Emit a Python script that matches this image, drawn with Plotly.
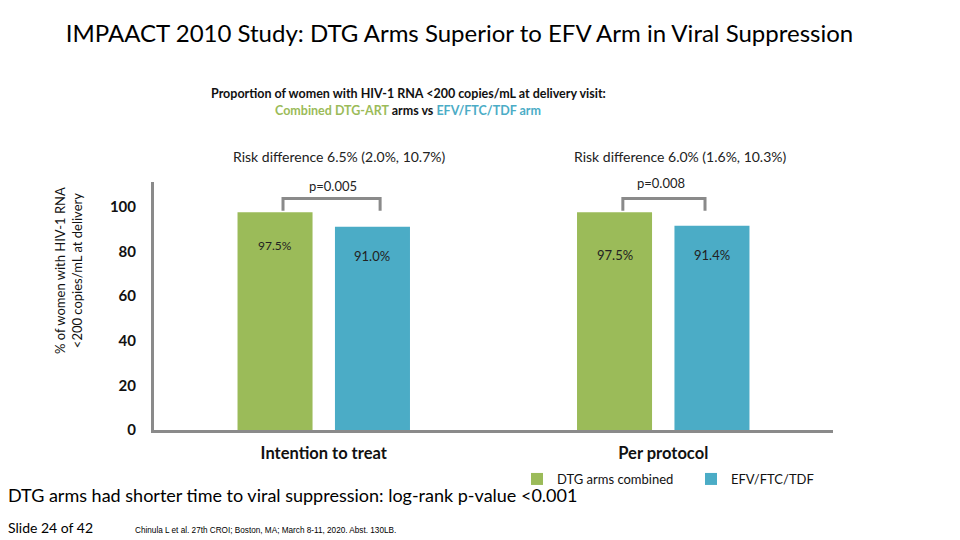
import plotly.graph_objects as go

categories = ["Intention to treat", "Per protocol"]
dtg_values = [97.5, 97.5]
efv_values = [91.0, 91.4]
dtg_labels = ["97.5%", "97.5%"]
efv_labels = ["91.0%", "91.4%"]
series_names = ["DTG arms combined", "EFV/FTC/TDF"]
risk_texts = ["Risk difference 6.5% (2.0%, 10.7%)", "Risk difference 6.0% (1.6%, 10.3%)"]
p_values = ["p=0.005", "p=0.008"]
y_ticks = [0, 20, 40, 60, 80, 100]

GREEN = "#9BBB59"
BLUE = "#4BACC6"
GREY = "#8A8A8A"
FONT = "Lato"

# plot area in reference pixels (page has 8px body margin offset)
PL, PR, PT, PB = 154, 833, 182, 430
PW, PH = PR - PL, PB - PT


def px(x):
    return (x - PL) / PW


def py(y):
    return (PB - y) / PH


fig = go.Figure()
fig.add_trace(go.Bar(x=categories, y=dtg_values, name=series_names[0],
                     marker=dict(color=GREEN, line=dict(width=0))))
fig.add_trace(go.Bar(x=categories, y=efv_values, name=series_names[1],
                     marker=dict(color=BLUE, line=dict(width=0))))

annotations = []
shapes = []
bar_off = 0.143
for i, cat in enumerate(categories):
    annotations.append(dict(x=i - bar_off, y=dtg_values[i], xref="x", yref="y",
                            xanchor="center", yanchor="middle",
                            text=dtg_labels[i], showarrow=False,
                            yshift=-33 if i == 0 else -43,
                            font=dict(family=FONT, size=12 if i == 0 else 13, color="#222")))
    annotations.append(dict(x=i + bar_off, y=efv_values[i], xref="x", yref="y",
                            xanchor="center", yanchor="middle",
                            text=efv_labels[i], showarrow=False, yshift=-29,
                            font=dict(family=FONT, size=13, color="#222")))
    lx = i - (0.12 if i == 0 else 0.119)
    rx = i + (0.166 if i == 0 else 0.123)
    top = max(dtg_values[i], efv_values[i]) + 6.1
    bot = max(dtg_values[i], efv_values[i]) + 0.6
    shapes.append(dict(type="path", xref="x", yref="y",
                       path=f"M {lx} {bot} L {lx} {top} L {rx} {top} L {rx} {bot}",
                       line=dict(color=GREY, width=3)))
    annotations.append(dict(x=(lx + rx) / 2 + (0.005 if i == 0 else -0.01), y=top,
                            xref="x", yref="y", text=p_values[i], showarrow=False,
                            xanchor="center", yanchor="middle",
                            yshift=13 if i == 0 else 16,
                            font=dict(family=FONT, size=13, color="#222")))
    annotations.append(dict(x=px(339 if i == 0 else 680), y=py(156), xref="paper", yref="paper",
                            xanchor="center", yanchor="middle",
                            text=risk_texts[i], showarrow=False,
                            font=dict(family=FONT, size=14, color="#222")))

annotations.append(dict(x=px(408), y=py(93), xref="paper", yref="paper", showarrow=False,
                        xanchor="center", yanchor="middle",
                        text="<b>Proportion of women with HIV-1 RNA <200 copies/mL at delivery visit:</b>",
                        font=dict(family=FONT, size=12.5, color="#111")))
annotations.append(dict(x=px(408), y=py(110), xref="paper", yref="paper", showarrow=False,
                        xanchor="center", yanchor="middle",
                        text=f"<b><span style='color:{GREEN}'>Combined DTG-ART</span> arms vs "
                             f"<span style='color:{BLUE}'>EFV/FTC/TDF arm</span></b>",
                        font=dict(family=FONT, size=12.5, color="#111")))
annotations.append(dict(x=px(68), y=py(271), xref="paper", yref="paper",
                        xanchor="center", yanchor="middle",
                        showarrow=False, textangle=-90,
                        text="% of women with HIV-1 RNA<br><200 copies/mL at delivery",
                        font=dict(family=FONT, size=13, color="#111")))
annotations.append(dict(x=px(6), y=py(495), xref="paper", yref="paper",
                        xanchor="left", yanchor="middle",
                        showarrow=False,
                        text="DTG arms had shorter time to viral suppression: log-rank p-value <0.001",
                        font=dict(family=FONT, size=18, color="#000")))
annotations.append(dict(x=px(6), y=py(527), xref="paper", yref="paper",
                        xanchor="left", yanchor="middle",
                        showarrow=False, text="Slide 24 of 42",
                        font=dict(family=FONT, size=14, color="#000")))
annotations.append(dict(x=px(133), y=py(530), xref="paper", yref="paper",
                        xanchor="left", yanchor="middle",
                        showarrow=False,
                        text="Chinula L et al. 27th CROI; Boston, MA; March 8-11, 2020. Abst. 130LB.",
                        font=dict(family="Liberation Sans Narrow, Liberation Sans", size=8.2, color="#000")))

fig.update_layout(
    width=960, height=540,
    margin=dict(l=PL - 8, r=960 - PR + 8, t=PT - 8, b=540 - PB + 8, autoexpand=False),
    paper_bgcolor="white", plot_bgcolor="white",
    barmode="group", bargap=0.426, bargroupgap=0.23,
    title=dict(text="IMPAACT 2010 Study: DTG Arms Superior to EFV Arm in Viral Suppression",
               x=(459.5 - 8) / 960, xanchor="center", y=1 - (34 - 8) / 540, yanchor="middle",
               font=dict(family=FONT, size=24, color="#000")),
    xaxis=dict(showline=True, linecolor=GREY, linewidth=3, showgrid=False, ticks="",
               tickfont=dict(family=FONT, size=16.5, color="#111", weight="bold"),
               ticklabelstandoff=6, range=[-0.5, 1.5]),
    yaxis=dict(range=[0, 111], tickvals=y_ticks, showline=True, linecolor=GREY, linewidth=3,
               showgrid=False, zeroline=False, ticks="",
               tickfont=dict(family=FONT, size=15, color="#111", weight="bold"),
               ticklabelstandoff=12),
    legend=dict(orientation="h", x=px(517), xanchor="left",
                y=py(479), yanchor="middle",
                entrywidth=129, entrywidthmode="pixels",
                font=dict(family=FONT, size=13, color="#111"),
                itemwidth=30, bgcolor="rgba(0,0,0,0)"),
    annotations=annotations,
    shapes=shapes,
    showlegend=True,
)

fig.write_html("out.html")
